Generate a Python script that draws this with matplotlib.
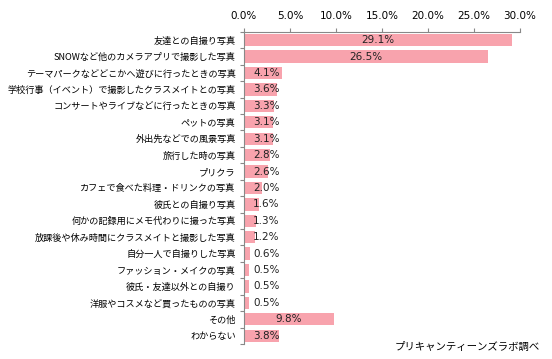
import matplotlib
matplotlib.use("Agg")
import matplotlib.pyplot as plt
import numpy as np

plt.rcParams['font.family'] = ['Noto Sans CJK JP', 'DejaVu Sans']

categories = [
    "友達との自撮り写真",
    "SNOWなど他のカメラアプリで撮影した写真",
    "テーマパークなどどこかへ遊びに行ったときの写真",
    "学校行事（イベント）で撮影したクラスメイトとの写真",
    "コンサートやライブなどに行ったときの写真",
    "ペットの写真",
    "外出先などでの風景写真",
    "旅行した時の写真",
    "プリクラ",
    "カフェで食べた料理・ドリンクの写真",
    "彼氏との自撮り写真",
    "何かの記録用にメモ代わりに撮った写真",
    "放課後や休み時間にクラスメイトと撮影した写真",
    "自分一人で自撮りした写真",
    "ファッション・メイクの写真",
    "彼氏・友達以外との自撮り",
    "洋服やコスメなど買ったものの写真",
    "その他",
    "わからない",
]
values = [29.1, 26.5, 4.1, 3.6, 3.3, 3.1, 3.1, 2.8, 2.6, 2.0, 1.6, 1.3, 1.2, 0.6, 0.5, 0.5, 0.5, 9.8, 3.8]
xticks = [0, 5, 10, 15, 20, 25, 30]

num_font = ['DejaVu Sans']

fig = plt.figure(figsize=(5.52, 3.59), dpi=100)
ax = fig.add_axes([0.442, 0.042, 0.500, 0.869])
n = len(categories)
y = np.arange(n)
bar_color = '#F8A3AD'
ax.barh(y, values, height=0.75, color=bar_color)
ax.set_ylim(n - 0.5, -0.5)
ax.set_xlim(0, 30)

for yi, v in zip(y, values):
    txt = f"{v:.1f}%"
    if v >= 5:
        ax.text(v / 2, yi, txt, ha='center', va='center', fontsize=7.5,
                color='#222222', family=num_font)
    else:
        ax.annotate(txt, (0, yi), xytext=(6.5, 0), textcoords='offset points',
                    ha='left', va='center', fontsize=7.5, color='#222222',
                    family=num_font)

ax.xaxis.tick_top()
ax.set_xticks(xticks)
ax.set_xticklabels([f"{t:.1f}%" for t in xticks], fontsize=7.5, family=num_font)
ax.tick_params(axis='x', direction='out', length=3, color='#888888', pad=5)

ax.set_yticks(np.arange(-0.5, n, 1.0), minor=False)
ax.set_yticklabels([])
ax.set_yticks(y, minor=True)
ax.set_yticklabels(categories, minor=True, fontsize=6.6)
ax.tick_params(axis='y', which='major', direction='out', length=3, color='#888888')
ax.tick_params(axis='y', which='minor', length=0, pad=6)

for s in ['right', 'bottom']:
    ax.spines[s].set_visible(False)
for s in ['top', 'left']:
    ax.spines[s].set_color('#888888')
    ax.spines[s].set_linewidth(0.8)

fig.text(0.978, 0.033, "プリキャンティーンズラボ調べ", ha='right', va='center', fontsize=7.5)

fig.savefig("out.png", dpi=100)
